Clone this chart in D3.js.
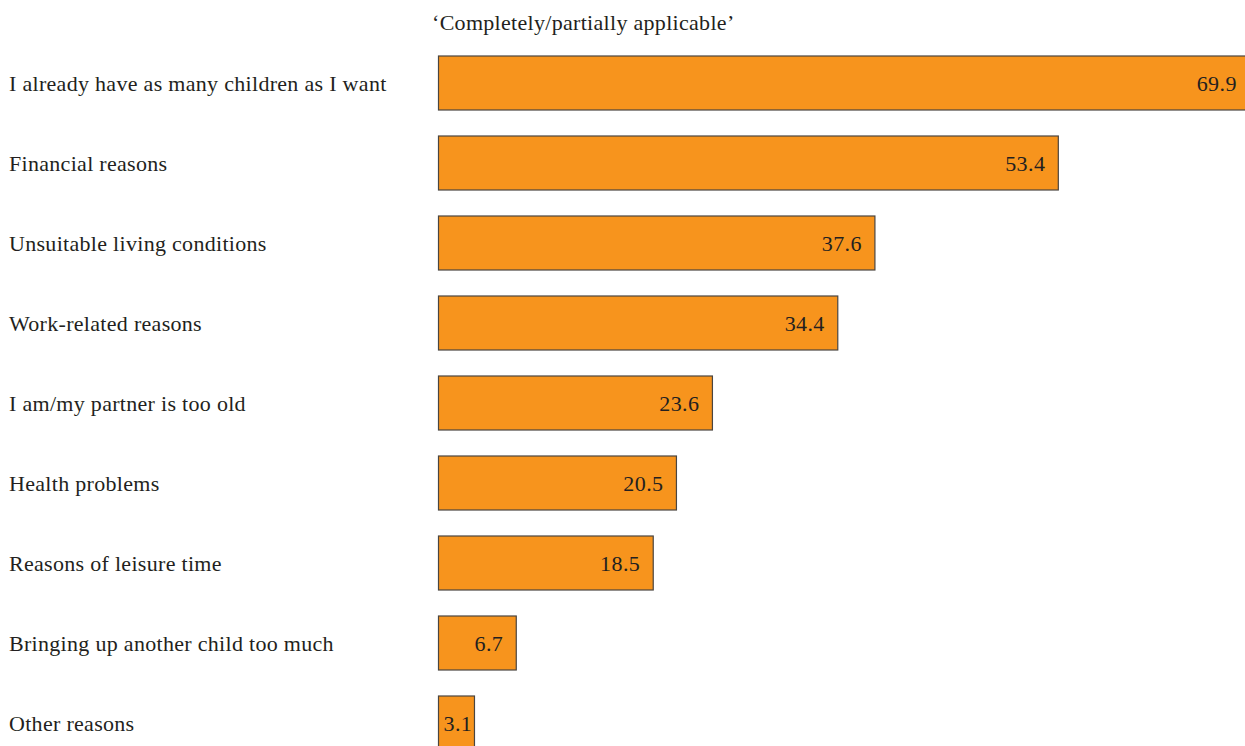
<!DOCTYPE html>
<html>
<head>
<meta charset="utf-8">
<script src="https://cdn.jsdelivr.net/npm/d3@7"></script>
<style>
  html, body { margin: 0; padding: 0; background: #fff; }
  svg { display: block; }
  text { font-family: "Liberation Serif", "Times New Roman", serif; fill: #231f20; }
</style>
</head>
<body>
<script>
// Reasons for not wanting (more) children, share answering "completely/partially applicable" (%)
const categories = [
  "I already have as many children as I want",
  "Financial reasons",
  "Unsuitable living conditions",
  "Work-related reasons",
  "I am/my partner is too old",
  "Health problems",
  "Reasons of leisure time",
  "Bringing up another child too much",
  "Other reasons"
];
const values = [69.9, 53.4, 37.6, 34.4, 23.6, 20.5, 18.5, 6.7, 3.1];
const title = "\u2018Completely/partially applicable\u2019";

const W = 1245, H = 746;
const FS = 22;
const svg = d3.select("body").append("svg")
  .attr("width", W).attr("height", H);

const x = d3.scaleLinear().domain([0, 70]).range([438.5, 438.5 + 70 * 11.607]);
const y = d3.scaleBand().domain(categories).range([43, 763])
  .paddingInner(0.325).paddingOuter(0.1625);

const data = categories.map((c, i) => ({ c, v: values[i] }));

svg.append("text")
  .attr("x", 432).attr("y", 30)
  .attr("font-size", FS)
  .attr("letter-spacing", 0.3)
  .text(title);

svg.selectAll("rect.bar").data(data).join("rect")
  .attr("class", "bar")
  .attr("x", x(0))
  .attr("y", d => y(d.c))
  .attr("width", d => x(d.v) - x(0))
  .attr("height", y.bandwidth())
  .attr("fill", "#f7941d")
  .attr("stroke", "#4a4540")
  .attr("stroke-width", 1.2);

svg.selectAll("text.cat").data(data).join("text")
  .attr("class", "cat")
  .attr("x", 9)
  .attr("y", d => y(d.c) + y.bandwidth() / 2)
  .attr("dy", "0.35em")
  .attr("font-size", FS)
  .attr("letter-spacing", 0.3)
  .text(d => d.c);

svg.selectAll("text.val").data(data).join("text")
  .attr("class", "val")
  .attr("y", d => y(d.c) + y.bandwidth() / 2)
  .attr("dy", "0.35em")
  .attr("font-size", FS)
  .attr("letter-spacing", 0.4)
  .text(d => d.v.toFixed(1))
  .each(function(d) {
    const w = this.getComputedTextLength();
    const right = x(d.v) - 13;
    const xl = Math.max(x(0) + 5, right - w);
    d3.select(this).attr("x", xl);
  });
</script>
</body>
</html>
